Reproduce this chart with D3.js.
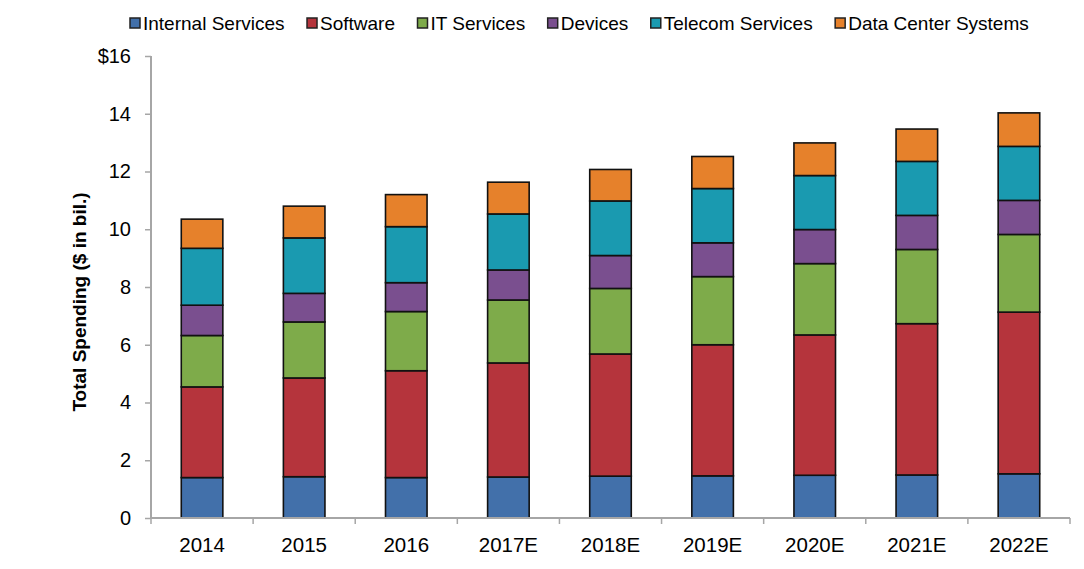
<!DOCTYPE html>
<html>
<head>
<meta charset="utf-8">
<script src="https://cdn.jsdelivr.net/npm/d3@7"></script>
<style>
  body { margin: 0; background: #fff; }
  svg { display: block; font-family: "Liberation Sans", Arial, sans-serif; }
</style>
</head>
<body>
<svg id="chart" width="1084" height="569"></svg>
<script>
var years = ['2014', '2015', '2016', '2017E', '2018E', '2019E', '2020E', '2021E', '2022E'];
var seriesNames = ['Internal Services', 'Software', 'IT Services', 'Devices', 'Telecom Services', 'Data Center Systems'];
var seriesColors = ['#4270aa', '#b5343c', '#7eab4a', '#7a4f8f', '#1a9ab0', '#e6812b'];

// values in $ bil.
var internalServices = [1.40, 1.43, 1.40, 1.42, 1.45, 1.46, 1.48, 1.49, 1.53];
var software         = [3.14, 3.42, 3.70, 3.95, 4.23, 4.54, 4.86, 5.24, 5.60];
var itServices       = [1.78, 1.94, 2.05, 2.18, 2.27, 2.36, 2.47, 2.57, 2.69];
var devices          = [1.05, 0.99, 1.00, 1.04, 1.14, 1.17, 1.18, 1.18, 1.18];
var telecomServices  = [1.97, 1.92, 1.94, 1.94, 1.89, 1.88, 1.87, 1.87, 1.87];
var dataCenter       = [1.01, 1.10, 1.11, 1.10, 1.09, 1.11, 1.13, 1.12, 1.16];
var yTicks = [0, 2, 4, 6, 8, 10, 12, 14, 16];

var seriesValues = [internalServices, software, itServices, devices, telecomServices, dataCenter];

(function () {
    var rows = years.map(function (yr, i) {
        var r = { year: yr };
        seriesNames.forEach(function (s, k) { r[s] = seriesValues[k][i]; });
        return r;
    });

    var svg = d3.select('#chart');
    var pLeft = 151, pRight = 1070, pTop = 56, pBottom = 518;

    var x = d3.scaleBand().domain(years).range([pLeft, pRight]).paddingInner(0.593).paddingOuter(0.2965);
    var xb = d3.scaleBand().domain(years).range([pLeft, pRight]);
    var y = d3.scaleLinear().domain([0, 16]).range([pBottom, pTop]);
    var color = d3.scaleOrdinal().domain(seriesNames).range(seriesColors);

    var stacked = d3.stack().keys(seriesNames)(rows);

    // bars
    svg.append('g').selectAll('g').data(stacked).enter().append('g')
        .attr('fill', function (d) { return color(d.key); })
        .selectAll('rect').data(function (d) { return d; }).enter().append('rect')
        .attr('x', function (d) { return x(d.data.year); })
        .attr('y', function (d) { return y(d[1]); })
        .attr('width', x.bandwidth())
        .attr('height', function (d) { return y(d[0]) - y(d[1]); })
        .attr('stroke', '#111')
        .attr('stroke-width', 1.6);

    // y axis
    var axisColor = '#a6a6a6';
    var gy = svg.append('g').attr('transform', 'translate(' + pLeft + ',0)')
        .call(d3.axisLeft(y).tickValues(yTicks).tickSize(6).tickPadding(14)
            .tickFormat(function (d) { return d === 16 ? '$16' : d; }));
    gy.select('.domain').attr('stroke', axisColor).attr('stroke-width', 2).attr('d', 'M0,' + pTop + 'V' + pBottom);
    gy.selectAll('.tick line').attr('stroke', axisColor).attr('stroke-width', 1.5);
    gy.selectAll('.tick text').attr('fill', '#000').style('font-size', '20px');

    // x axis: ticks at category boundaries
    var gx = svg.append('g').attr('transform', 'translate(0,' + pBottom + ')');
    gx.append('line').attr('x1', pLeft).attr('x2', pRight).attr('stroke', axisColor).attr('stroke-width', 2);
    var bounds = years.map(function (d) { return xb(d); }).concat([pRight]);
    gx.selectAll('.xt').data(bounds).enter().append('line')
        .attr('x1', function (d) { return d; }).attr('x2', function (d) { return d; })
        .attr('y1', 0).attr('y2', 6).attr('stroke', axisColor).attr('stroke-width', 1.5);
    gx.selectAll('.xl').data(years).enter().append('text')
        .attr('x', function (d) { return xb(d) + xb.bandwidth() / 2; })
        .attr('y', 34)
        .attr('text-anchor', 'middle')
        .style('font-size', '20.5px')
        .text(function (d) { return d; });

    // y title
    svg.append('text')
        .attr('transform', 'translate(86,302) rotate(-90)')
        .attr('text-anchor', 'middle')
        .style('font-size', '19px').style('font-weight', 'bold')
        .text('Total Spending ($ in bil.)');

    // legend
    var lx = 130;
    seriesNames.forEach(function (s) {
        var g = svg.append('g').attr('transform', 'translate(' + lx + ',23)');
        g.append('rect').attr('x', 0).attr('y', -5).attr('width', 10).attr('height', 10)
            .attr('fill', color(s)).attr('stroke', '#222').attr('stroke-width', 1.5);
        var t = g.append('text').attr('x', 13).attr('y', 7).style('font-size', '19px').text(s);
        lx += 13 + t.node().getComputedTextLength() + 22.5;
    });
})();
</script>
</body>
</html>
